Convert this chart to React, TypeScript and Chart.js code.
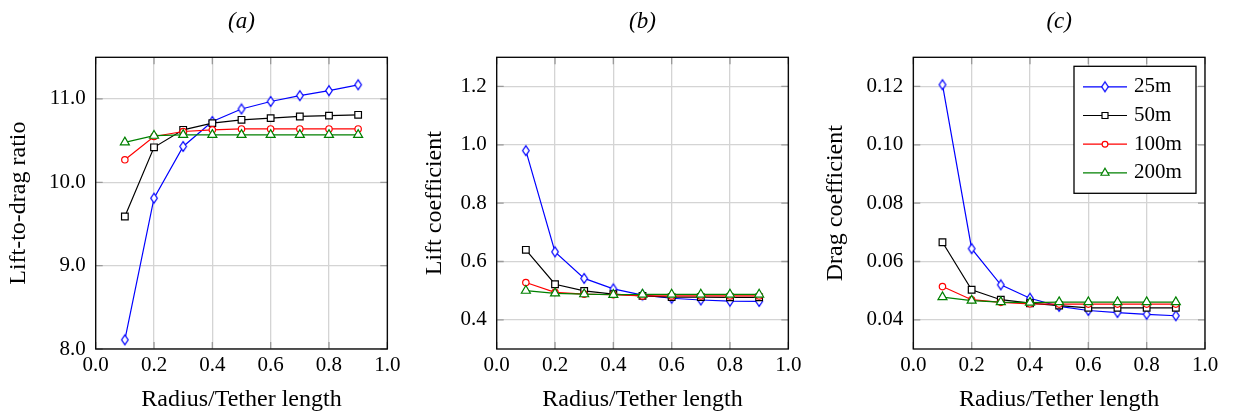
import React, { useEffect, useRef } from 'react';
import { Chart, registerables } from 'chart.js';
import { drawPoint } from 'chart.js/helpers';

Chart.register(...registerables);

// ---------- data ----------
const RATIOS = [0.1, 0.2, 0.3, 0.4, 0.5, 0.6, 0.7, 0.8, 0.9];
const SERIES_LABELS = ['25m', '50m', '100m', '200m'];

const LD_25M = [8.11, 9.81, 10.43, 10.73, 10.88, 10.97, 11.04, 11.1, 11.17];
const LD_50M = [9.59, 10.42, 10.63, 10.71, 10.75, 10.77, 10.79, 10.8, 10.81];
const LD_100M = [10.27, 10.55, 10.61, 10.63, 10.64, 10.64, 10.64, 10.64, 10.64];
const LD_200M = [10.48, 10.56, 10.57, 10.57, 10.57, 10.57, 10.57, 10.57, 10.57];

const CL_25M = [0.98, 0.633, 0.542, 0.506, 0.485, 0.474, 0.468, 0.464, 0.463];
const CL_50M = [0.64, 0.522, 0.499, 0.488, 0.482, 0.478, 0.478, 0.477, 0.477];
const CL_100M = [0.528, 0.494, 0.488, 0.486, 0.482, 0.482, 0.482, 0.482, 0.482];
const CL_200M = [0.5, 0.491, 0.488, 0.486, 0.487, 0.487, 0.487, 0.487, 0.487];

const CD_25M = [0.1206, 0.0644, 0.052, 0.0474, 0.0446, 0.0432, 0.0425, 0.0419, 0.0414];
const CD_50M = [0.0666, 0.0503, 0.0469, 0.0457, 0.0449, 0.0441, 0.0441, 0.0441, 0.0441];
const CD_100M = [0.0514, 0.0469, 0.046, 0.0455, 0.0454, 0.0454, 0.0454, 0.0454, 0.0454];
const CD_200M = [0.0478, 0.0466, 0.0461, 0.0459, 0.0461, 0.0461, 0.0461, 0.0461, 0.0461];

const X_TICKS = [0, 0.2, 0.4, 0.6, 0.8, 1.0];
const LD_TICKS = [8, 9, 10, 11];
const CL_TICKS = [0.4, 0.6, 0.8, 1.0, 1.2];
const CD_TICKS = [0.04, 0.06, 0.08, 0.1, 0.12];

// ---------- styles ----------
const FAMILY = "'Liberation Serif', 'Times New Roman', serif";
const COLORS = ['#0000ff', '#000000', '#ff0000', '#008000'];
const STYLES = ['diamond', 'rect', 'circle', 'triangle'];
const RADII = [4.8, 4.7, 3.2, 5.2];
const GRID_COLOR = '#d4d4d4';
const TICK_COLOR = '#9a9a9a';

let diamondCache: HTMLCanvasElement | null = null;
function diamondMarker(color: string): HTMLCanvasElement {
  if (diamondCache) return diamondCache;
  const c = document.createElement('canvas');
  c.width = 10;
  c.height = 13;
  const g = c.getContext('2d')!;
  const cx = 5, cy = 6.5, hw = 3.3, hh = 4.9;
  g.beginPath();
  g.moveTo(cx, cy - hh);
  g.lineTo(cx + hw, cy);
  g.lineTo(cx, cy + hh);
  g.lineTo(cx - hw, cy);
  g.closePath();
  g.fillStyle = '#fff';
  g.fill();
  g.strokeStyle = color;
  g.lineWidth = 1.2;
  g.stroke();
  diamondCache = c;
  return c;
}

function markerFor(i: number): any {
  return STYLES[i] === 'diamond' ? diamondMarker(COLORS[i]) : STYLES[i];
}

const framePlugin = {
  id: 'frame',
  beforeDatasetsDraw(chart: any) {
    const { ctx, chartArea, scales } = chart;
    const { left, right, top, bottom } = chartArea;
    const tl = 7;
    ctx.save();
    ctx.strokeStyle = TICK_COLOR;
    ctx.lineWidth = 1.3;
    for (const t of scales.x.ticks) {
      const px = scales.x.getPixelForValue(t.value);
      ctx.beginPath();
      ctx.moveTo(px, bottom);
      ctx.lineTo(px, bottom - tl);
      ctx.moveTo(px, top);
      ctx.lineTo(px, top + tl);
      ctx.stroke();
    }
    for (const t of scales.y.ticks) {
      const py = scales.y.getPixelForValue(t.value);
      ctx.beginPath();
      ctx.moveTo(left, py);
      ctx.lineTo(left + tl, py);
      ctx.moveTo(right, py);
      ctx.lineTo(right - tl, py);
      ctx.stroke();
    }
    ctx.strokeStyle = '#000';
    ctx.lineWidth = 1.3;
    ctx.strokeRect(left, top, right - left, bottom - top);
    ctx.restore();
  },
};

const legendPlugin = {
  id: 'boxLegend',
  afterDatasetsDraw(chart: any) {
    const { ctx, chartArea } = chart;
    const w = 122;
    const h = 127;
    const right = chartArea.right - 9;
    const top = chartArea.top + 9;
    const left = right - w;
    ctx.save();
    ctx.fillStyle = '#fff';
    ctx.fillRect(left, top, w, h);
    ctx.strokeStyle = '#000';
    ctx.lineWidth = 1.3;
    ctx.strokeRect(left, top, w, h);
    chart.data.datasets.forEach((ds: any, i: number) => {
      const y = top + 20.5 + i * 28.7;
      ctx.strokeStyle = ds.borderColor;
      ctx.lineWidth = 1.2;
      ctx.beginPath();
      ctx.moveTo(left + 9, y);
      ctx.lineTo(left + 53, y);
      ctx.stroke();
      ctx.fillStyle = '#fff';
      ctx.lineWidth = 1.2;
      const r = typeof ds.pointStyle === 'string' ? ds.pointRadius * 0.9 : ds.pointRadius;
      drawPoint(ctx, { pointStyle: ds.pointStyle, radius: r, borderWidth: 1.2, rotation: 0 } as any, left + 31, y);
      ctx.fillStyle = '#000';
      ctx.font = `21px ${FAMILY}`;
      ctx.textBaseline = 'middle';
      ctx.textAlign = 'left';
      ctx.fillText(ds.label, left + 60, y);
    });
    ctx.restore();
  },
};

type PanelProps = {
  title: string;
  yTitle: string;
  yMin: number;
  yMax: number;
  yTicks: number[];
  yDecimals: number;
  series: number[][];
  left: number;
  width: number;
  yAxisWidth: number;
  padRight: number;
  yTitlePad: number;
  legend?: boolean;
};

function Panel(p: PanelProps) {
  const ref = useRef<HTMLCanvasElement | null>(null);
  useEffect(() => {
    if (!ref.current) return;
    const tickFont = { family: FAMILY, size: 21 };
    const titleFont = { family: FAMILY, size: 24 };
    const chart = new Chart(ref.current, {
      type: 'line',
      data: {
        datasets: p.series.map((vals, i) => ({
          label: SERIES_LABELS[i],
          data: RATIOS.map((x, j) => ({ x, y: vals[j] })),
          borderColor: COLORS[i],
          backgroundColor: '#ffffff',
          pointBackgroundColor: '#ffffff',
          pointBorderColor: COLORS[i],
          pointStyle: markerFor(i),
          pointRadius: RADII[i],
          pointBorderWidth: 1.2,
          borderWidth: 1.2,
          tension: 0,
          order: 3 - i,
        })),
      },
      options: {
        responsive: false,
        animation: false,
        events: [],
        layout: { padding: { left: 0, right: p.padRight, top: 0, bottom: 0 } },
        plugins: {
          legend: { display: false },
          tooltip: { enabled: false },
          title: {
            display: true,
            text: p.title,
            fullSize: false,
            color: '#000',
            font: { family: FAMILY, size: 23, style: 'italic', weight: 'normal' },
            padding: { top: 8.2, bottom: 21.5 },
          },
        },
        scales: {
          x: {
            type: 'linear',
            min: 0,
            max: 1,
            afterBuildTicks: (s: any) => {
              s.ticks = X_TICKS.map((v) => ({ value: v }));
            },
            afterFit: (s: any) => {
              s.height = 65;
            },
            ticks: {
              autoSkip: false,
              maxRotation: 0,
              padding: 4,
              color: '#000',
              font: tickFont,
              callback: (v: any) => Number(v).toFixed(1),
            },
            grid: { color: GRID_COLOR, lineWidth: 1.3, drawTicks: false },
            border: { display: false },
            title: {
              display: true,
              text: 'Radius/Tether length',
              color: '#000',
              font: titleFont,
              padding: { top: 0, bottom: 0 },
            },
          },
          y: {
            type: 'linear',
            min: p.yMin,
            max: p.yMax,
            afterBuildTicks: (s: any) => {
              s.ticks = p.yTicks.map((v) => ({ value: v }));
            },
            afterFit: (s: any) => {
              s.width = p.yAxisWidth;
            },
            ticks: {
              autoSkip: false,
              padding: 10,
              color: '#000',
              font: tickFont,
              callback: (v: any) => Number(v).toFixed(p.yDecimals),
            },
            grid: { color: GRID_COLOR, lineWidth: 1.3, drawTicks: false },
            border: { display: false },
            title: {
              display: true,
              text: p.yTitle,
              color: '#000',
              font: titleFont,
              padding: { top: p.yTitlePad, bottom: 0 },
            },
          },
        },
      } as any,
      plugins: p.legend ? [framePlugin, legendPlugin] : [framePlugin],
    });
    return () => chart.destroy();
  }, []);
  return (
    <canvas
      ref={ref}
      width={p.width}
      height={414}
      style={{ position: 'absolute', left: p.left, top: 0, width: p.width, height: 414, display: 'block' }}
    />
  );
}

export default function App() {
  return (
    <div style={{ position: 'absolute', left: 0, top: 0, width: 1234, height: 414, background: '#fff' }}>
      <Panel
        title="(a)"
        yTitle="Lift-to-drag ratio"
        yMin={8}
        yMax={11.5}
        yTicks={LD_TICKS}
        yDecimals={1}
        series={[LD_25M, LD_50M, LD_100M, LD_200M]}
        left={0}
        width={410}
        yAxisWidth={95.7}
        padRight={22.7}
        yTitlePad={4.6}
      />
      <Panel
        title="(b)"
        yTitle="Lift coefficient"
        yMin={0.3}
        yMax={1.3}
        yTicks={CL_TICKS}
        yDecimals={1}
        series={[CL_25M, CL_50M, CL_100M, CL_200M]}
        left={410}
        width={410}
        yAxisWidth={86.7}
        padRight={31.7}
        yTitlePad={10.3}
      />
      <Panel
        title="(c)"
        yTitle="Drag coefficient"
        yMin={0.03}
        yMax={0.13}
        yTicks={CD_TICKS}
        yDecimals={2}
        series={[CD_25M, CD_50M, CD_100M, CD_200M]}
        left={820}
        width={414}
        yAxisWidth={93.3}
        padRight={29}
        yTitlePad={1.3}
        legend
      />
    </div>
  );
}
